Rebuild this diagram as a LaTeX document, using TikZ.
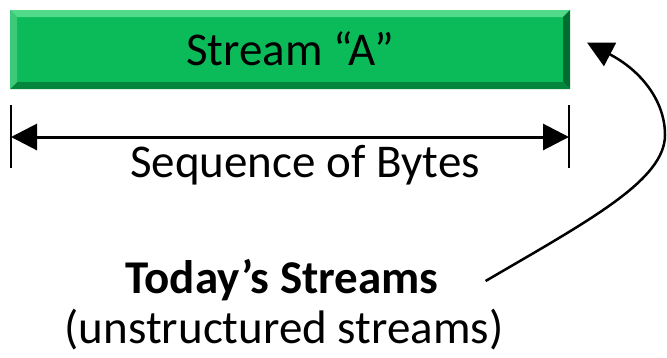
\documentclass[tikz,border=0pt]{standalone}
\usepackage{fontspec}
\setmainfont{Carlito}
\usetikzlibrary{arrows.meta}
\usetikzlibrary{positioning}
\definecolor{G}{RGB}{11,187,89}
\definecolor{Gdark}{RGB}{0,110,48}
\definecolor{Glight}{RGB}{80,218,138}
\tikzstyle{base}=[x=1pt, y=-1pt, inner sep=0pt, outer sep=0pt]
\tikzstyle{bigtext}=[font=\fontsize{47}{56}\selectfont, anchor=base]
\tikzset{bighead/.tip={Triangle[length=26pt, width=26pt]}}

\begin{document}
\begin{tikzpicture}[base]
    \useasboundingbox (0,0) rectangle (667,357);
        \node (box) [fill=G, minimum width=560pt, minimum height=79pt] at (290,49.5) {};
        \fill [Glight] (box.north west) -- (box.north east) -- ([shift={(-7,7)}]box.north east) -- ([shift={(7,7)}]box.north west) -- cycle;
        \fill [Gdark] (box.north east) -- (box.south east) -- ([shift={(-7,-7)}]box.south east) -- ([shift={(-7,7)}]box.north east) -- cycle;
        \fill [Gdark!70!G] (box.south west) -- (box.south east) -- ([shift={(-7,-7)}]box.south east) -- ([shift={(7,-7)}]box.south west) -- cycle;
        \fill [G!80!white] (box.north west) -- ([shift={(7,7)}]box.north west) -- ([shift={(7,-7)}]box.south west) -- (box.south west) -- cycle;
        \node (stream) [bigtext] at (290,65) {Stream “A”};
        \draw [line width=2pt] ([shift={(1,16)}]box.south west) -- ++(0,63);
        \draw [line width=2pt] ([shift={(-1,16)}]box.south east) -- ++(0,63);
        \coordinate (left) at (11,137);
        \coordinate (right) at (569,137);
        \draw [line width=3pt, bighead-bighead] (left) -- (right);
        \node (seq) [bigtext] at (305,177) {Sequence of Bytes};
        \node (today) [bigtext, font=\fontsize{47}{56}\selectfont\bfseries] at (282,293) {Today’s Streams};
        \node (unstruct) [bigtext] at (284,343) {(unstructured streams)};
        \coordinate (start) at ([shift={(47,-12)}]today.base east);
        \coordinate (aim) at ([shift={(17,-7)}]box.east);
        \draw [line width=2.5pt, -bighead] (start) .. controls (590,220) and (665,180) .. (665,135) .. controls (665,100) and (640,70) .. (aim);
    \end{tikzpicture}
\end{document}
